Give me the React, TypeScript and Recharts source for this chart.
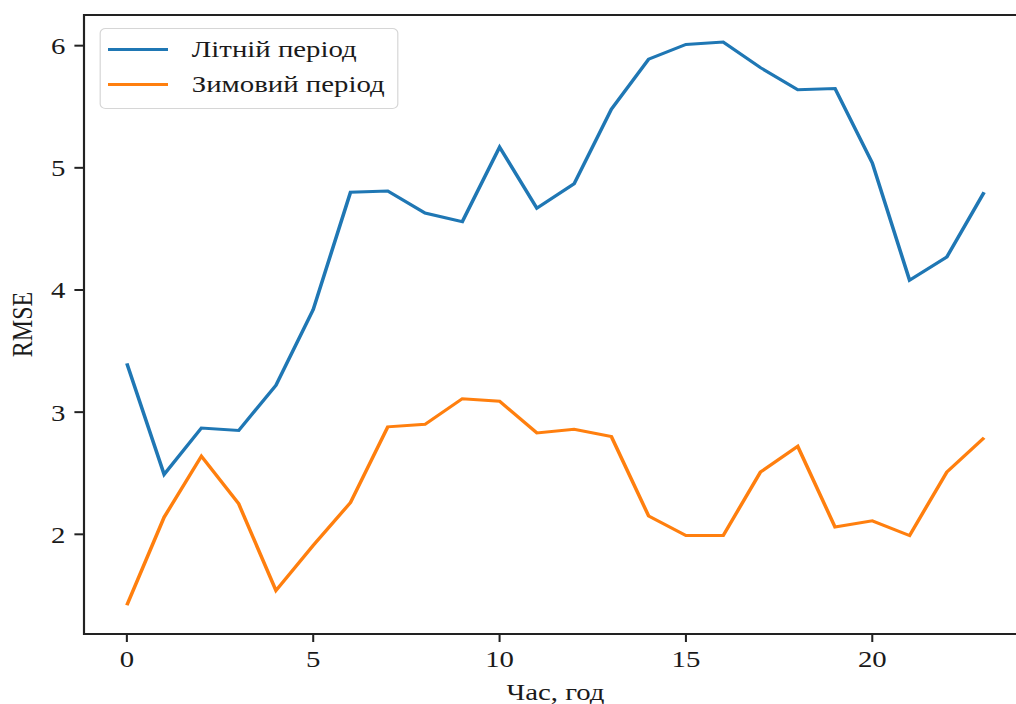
import React from 'react';
import { LineChart, Line, XAxis, YAxis, ReferenceArea } from 'recharts';

const hours = [0, 1, 2, 3, 4, 5, 6, 7, 8, 9, 10, 11, 12, 13, 14, 15, 16, 17, 18, 19, 20, 21, 22, 23];
const summerRmse = [
  3.4, 2.49, 2.87, 2.85, 3.22, 3.84, 4.8, 4.81, 4.63, 4.56, 5.17, 4.67,
  4.87, 5.48, 5.89, 6.01, 6.03, 5.82, 5.64, 5.65, 5.04, 4.08, 4.27, 4.8,
];
const winterRmse = [
  1.42, 2.14, 2.64, 2.25, 1.54, 1.91, 2.26, 2.88, 2.9, 3.11, 3.09, 2.83,
  2.86, 2.8, 2.15, 1.99, 1.99, 2.51, 2.72, 2.06, 2.11, 1.99, 2.51, 2.79,
];
const xTicks = [0, 5, 10, 15, 20];
const yTicks = [2, 3, 4, 5, 6];
const seriesNames = ['Літній період', 'Зимовий період'];

const X_MIN = -1.15;
const X_MAX = 24.15;
const Y_MIN = 1.184;
const Y_MAX = 6.251;

// the reference picture is stretched sideways, so the whole chart is too
const STRETCH = 1.2;

const BLUE = '#1f77b4';
const ORANGE = '#ff7f0e';
const FONT = '"Liberation Serif", "Times New Roman", serif';
const TEXT_COLOR = '#1a1a1a';

const data = hours.map((h, i) => ({
  hour: h,
  summer: summerRmse[i],
  winter: winterRmse[i],
}));

const LegendBox = () => (
  <div
    style={{
      position: 'absolute',
      left: 83.3,
      top: 28,
      width: 248.5,
      height: 81,
      boxSizing: 'border-box',
      border: '1.5px solid #d6d6d6',
      borderRadius: 5,
      background: '#fff',
      fontFamily: FONT,
      fontSize: 24,
      color: TEXT_COLOR,
    }}
  >
    {[BLUE, ORANGE].map((c, i) => (
      <div
        key={c}
        style={{ position: 'absolute', left: 0, top: i === 0 ? 20 : 55, width: '100%' }}
      >
        <div
          style={{
            position: 'absolute',
            left: 5.5,
            top: -1.5,
            width: 50,
            height: 3,
            background: c,
          }}
        />
        <span
          style={{
            position: 'absolute',
            left: 75.5,
            top: -15,
            lineHeight: '30px',
            whiteSpace: 'nowrap',
          }}
        >
          {seriesNames[i]}
        </span>
      </div>
    ))}
  </div>
);

const YLabel = ({ viewBox }: any) => {
  const cx = 18.5;
  const cy = viewBox.y + viewBox.height / 2;
  return (
    <text
      x={cx}
      y={cy}
      transform={`rotate(-90, ${cx}, ${cy})`}
      textAnchor="middle"
      dominantBaseline="central"
      fontFamily={FONT}
      fontSize={24}
      fill={TEXT_COLOR}
    >
      RMSE
    </text>
  );
};

const XLabel = ({ viewBox }: any) => (
  <text
    x={viewBox.x + viewBox.width / 2}
    y={700}
    textAnchor="middle"
    fontFamily={FONT}
    fontSize={24}
    fill={TEXT_COLOR}
  >
    Час, год
  </text>
);

const App = () => {
  return (
    <div
      style={{
        position: 'fixed',
        left: 0,
        top: 0,
        width: 1016,
        height: 704,
        overflow: 'hidden',
        background: '#fff',
      }}
    >
      <div
        style={{
          position: 'relative',
          width: 870,
          height: 704,
          transform: `scaleX(${STRETCH})`,
          transformOrigin: '0 0',
        }}
      >
        <LineChart
          width={870}
          height={704}
          data={data}
          margin={{ top: 15, right: 14.2, bottom: 0, left: 0 }}
        >
          <XAxis
            dataKey="hour"
            type="number"
            domain={[X_MIN, X_MAX]}
            ticks={xTicks}
            allowDataOverflow
            height={70}
            axisLine={false}
            tickLine={{ stroke: '#222', strokeWidth: 1.7 }}
            tickSize={8}
            tickMargin={8}
            tick={{ fontFamily: FONT, fontSize: 24, fill: TEXT_COLOR }}
            label={XLabel}
          />
          <YAxis
            type="number"
            domain={[Y_MIN, Y_MAX]}
            ticks={yTicks}
            allowDataOverflow
            width={70}
            axisLine={false}
            tickLine={{ stroke: '#222', strokeWidth: 2 }}
            tickSize={8}
            tickMargin={7.5}
            tick={{ fontFamily: FONT, fontSize: 24, fill: TEXT_COLOR }}
            label={YLabel}
          />
          <ReferenceArea
            x1={X_MIN}
            x2={X_MAX}
            y1={Y_MIN}
            y2={Y_MAX}
            fill="none"
            fillOpacity={0}
            stroke="#222"
            strokeWidth={1.8}
            ifOverflow="visible"
          />
          <Line
            type="linear"
            dataKey="summer"
            name={seriesNames[0]}
            stroke={BLUE}
            strokeWidth={3}
            dot={false}
            activeDot={false}
            isAnimationActive={false}
          />
          <Line
            type="linear"
            dataKey="winter"
            name={seriesNames[1]}
            stroke={ORANGE}
            strokeWidth={3}
            dot={false}
            activeDot={false}
            isAnimationActive={false}
          />
        </LineChart>
        <LegendBox />
      </div>
    </div>
  );
};

export default App;
